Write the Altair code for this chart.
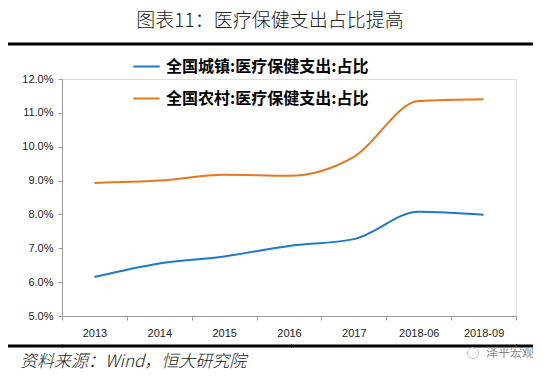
import altair as alt
import pandas as pd

periods = ["2013", "2014", "2015", "2016", "2017", "2018-06", "2018-09"]
urban = [0.0615, 0.0655, 0.0676, 0.0707, 0.0727, 0.0808, 0.0799]
rural = [0.0893, 0.0900, 0.0917, 0.0914, 0.0970, 0.1135, 0.1140]
series_names = ["全国城镇:医疗保健支出:占比", "全国农村:医疗保健支出:占比"]
colors = ["#1f78c8", "#e8761e"]
y_ticks = [0.05, 0.06, 0.07, 0.08, 0.09, 0.10, 0.11, 0.12]

title_text = "图表11：医疗保健支出占比提高"
source_text = "资料来源：Wind，恒大研究院"
mark_text = "泽平宏观"

rows = []
for p, u, r in zip(periods, urban, rural):
    rows.append({"period": p, "series": series_names[0], "value": u})
    rows.append({"period": p, "series": series_names[1], "value": r})
df = pd.DataFrame(rows)

W, H = 454, 237


def hline(yv, tag, x1, x2, col="#000000"):
    return alt.Chart(pd.DataFrame({"t": [tag]})).mark_rule(color=col, strokeWidth=3).encode(
        x=alt.value(x1), x2=alt.value(x2), y=alt.value(yv))


rule_top = hline(-35, 3, -57, 473)
rule_b1 = hline(H + 30, 11, -57, 1)
rule_b2 = hline(H + 30, 12, 0, 230)
rule_b3 = hline(H + 30, 13, 229, 455)
rule_b4 = hline(H + 30, 14, 454, 473)

lines = alt.Chart(df).mark_line(interpolate="monotone", strokeWidth=2, clip=False).encode(
    x=alt.X("period:N", sort=periods, bandPosition=0.5,
            scale=alt.Scale(type="band", paddingInner=0, paddingOuter=0),
            axis=alt.Axis(title=None, labelAngle=0, tickBand="extent", domainColor="#999999",
                          tickColor="#999999", tickSize=4, labelFont="Liberation Sans",
                          labelFontSize=11, labelColor="#222222", labelPadding=7, grid=False)),
    y=alt.Y("value:Q", scale=alt.Scale(domain=[0.05, 0.12], nice=False, zero=False),
            axis=alt.Axis(title=None, values=y_ticks, format=".1%", domainColor="#999999",
                          tickColor="#999999", tickSize=4, labelFont="Liberation Sans",
                          labelFontSize=11, labelColor="#222222", labelPadding=5, grid=False)),
    color=alt.Color("series:N", sort=series_names,
                    scale=alt.Scale(domain=series_names, range=colors),
                    legend=alt.Legend(title=None, orient="none", legendX=70, legendY=-27,
                                      direction="vertical", symbolType="stroke",
                                      symbolSize=700, symbolStrokeWidth=2,
                                      labelFont="Noto Sans CJK SC", labelFontWeight="bold",
                                      labelFontSize=16, labelColor="#000000", labelLimit=0,
                                      rowPadding=9, labelOffset=5)),
)

title = alt.Chart(pd.DataFrame({"t": [title_text]})).mark_text(
    font="Noto Sans CJK SC", fontSize=19, fontWeight=300, color="#222222",
    align="center", baseline="middle").encode(text="t:N", x=alt.value(208), y=alt.value(-58))
src = alt.Chart(pd.DataFrame({"t": [source_text]})).mark_text(
    font="Noto Sans CJK SC", fontSize=17, fontWeight=300, fontStyle="italic", color="#222222",
    align="left", baseline="middle").encode(text="t:N", x=alt.value(-42), y=alt.value(H + 46))
wm = alt.Chart(pd.DataFrame({"t": [mark_text]})).mark_text(
    font="Noto Sans CJK SC", fontSize=12, color="#888888", align="left", baseline="middle").encode(
    text="t:N", x=alt.value(424), y=alt.value(H + 37))
icon = alt.Chart(pd.DataFrame({"t": [2]})).mark_point(
    shape="circle", size=120, color="#aaaaaa", strokeWidth=1).encode(
    x=alt.value(411), y=alt.value(H + 37))

chart = alt.layer(rule_top, rule_b1, rule_b2, rule_b3, rule_b4, lines, title, src, wm, icon).properties(
    width=W, height=H,
    autosize=alt.AutoSizeParams(type="none"),
    padding={"left": 54, "top": 71, "right": 17, "bottom": 58},
).configure_view(stroke=None).configure(background="#ffffff")

chart.save("out.html", embed_options={"renderer": "svg", "actions": False})
